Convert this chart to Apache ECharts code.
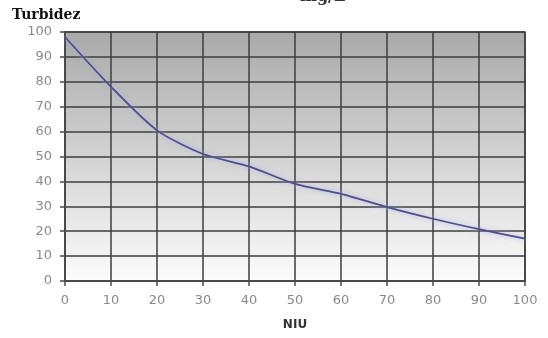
<!DOCTYPE html>
<html><head><meta charset="utf-8">
<script src="https://cdn.jsdelivr.net/npm/echarts@6/dist/echarts.min.js"></script>
<style>html,body{margin:0;padding:0;background:#fff}#c{width:548px;height:338px}</style>
</head><body><div id="c"></div>
<script>
const xValues = [0, 10, 20, 30, 40, 50, 60, 70, 80, 90, 100];
const turbidity = [98, 78, 60.5, 51, 46, 39, 35, 29.7, 25, 20.8, 17];
const yTitle = 'Turbidez';
const xTitle = 'NIU';
const topTitle = 'mg/L';

const chart = echarts.init(document.getElementById('c'));
chart.setOption({
  animation: false,
  backgroundColor: '#ffffff',
  grid: {
    left: 65, right: 23, top: 32, bottom: 57, show: true,
    borderColor: '#4a4a4a', borderWidth: 1.5,
    backgroundColor: new echarts.graphic.LinearGradient(0, 0, 0, 1, [
      {offset: 0, color: '#a9a9a9'}, {offset: 1, color: '#fcfcfc'}
    ])
  },
  graphic: [
    {type: 'text', left: 12, top: 8, style: {text: yTitle, font: 'bold 14px "DejaVu Serif", serif', fill: '#111'}},
    {type: 'text', left: 300, top: -11, style: {text: topTitle, font: 'bold 16px "DejaVu Serif", serif', fill: '#333', textAlign: 'center'}}
  ],
  xAxis: {
    type: 'value', min: 0, max: 100, interval: 10,
    name: xTitle, nameLocation: 'middle', nameGap: 38,
    nameTextStyle: {fontFamily: 'DejaVu Sans', fontWeight: 'bold', fontSize: 12, color: '#333', letterSpacing: 3},
    axisLine: {show: true, lineStyle: {color: '#4a4a4a', width: 1.5}},
    axisTick: {show: true, length: 5, lineStyle: {color: '#4a4a4a', width: 1.5}},
    axisLabel: {color: '#8a8a8a', fontFamily: 'DejaVu Sans', fontSize: 13, margin: 13},
    splitLine: {show: true, lineStyle: {color: '#3e3e3e', width: 1.5}}
  },
  yAxis: {
    type: 'value', min: 0, max: 100, interval: 10,
    axisLine: {show: true, lineStyle: {color: '#4a4a4a', width: 1.5}},
    axisTick: {show: true, length: 5, lineStyle: {color: '#4a4a4a', width: 1.5}},
    axisLabel: {color: '#8a8a8a', fontFamily: 'DejaVu Sans', fontSize: 13, margin: 13},
    splitLine: {show: true, lineStyle: {color: '#3e3e3e', width: 1.5}}
  },
  series: [{
    type: 'line',
    data: xValues.map((x, i) => [x, turbidity[i]]),
    smooth: 0.25,
    symbol: 'none',
    lineStyle: {color: '#4e4e88', width: 1.8, shadowColor: 'rgba(170,170,235,0.9)', shadowBlur: 5}
  }]
});
</script></body></html>
